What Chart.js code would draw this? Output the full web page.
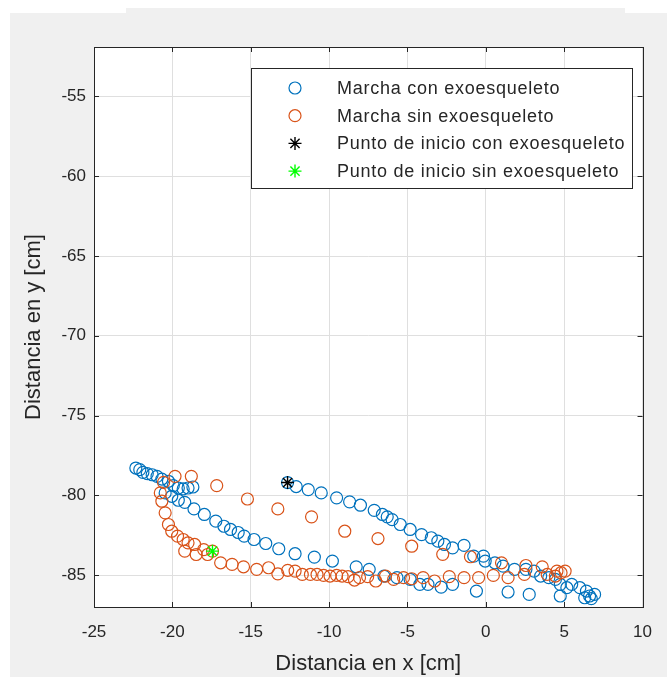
<!DOCTYPE html>
<html>
<head>
<meta charset="utf-8">
<script src="https://cdn.jsdelivr.net/npm/chart.js@4"></script>
<style>
  html, body { margin: 0; padding: 0; background: #fff; }
  #fig { position: absolute; left: 10px; top: 13px; width: 657px; height: 664px; background: #f0f0f0; }
  #figTop { position: absolute; left: 126px; top: 8px; width: 499px; height: 6px; background: #f0f0f0; }
  #plot { position: absolute; left: 0; top: 0; }
</style>
</head>
<body>
<div id="fig"></div>
<div id="figTop"></div>
<canvas id="plot" width="667" height="677"></canvas>
<script>
// trayectoria con exoesqueleto [x, y] en cm
const conExoX = [-12.65, -12.1, -11.33, -10.5, -9.52, -8.69, -8.0, -7.12, -6.6, -6.29, -5.98, -5.46, -4.83, -4.1, -3.48, -3.06, -2.64, -2.12, -1.39, -0.77, -0.15, -0.04, 0.58, 1.1, 1.83, 2.56, 3.08, 3.5, 4.02, 4.44, 4.75, 5.17, 5.48, 6.0, 6.42, 6.62, 6.94, 6.31, 6.73,
  4.75, 2.77, 1.42, -0.6, -2.12, -2.85, -3.69, -4.21, -4.83, -5.67, -6.5, -7.44, -8.27, -9.79, -10.94, -12.17, -13.21, -14.04, -14.79, -15.42, -15.8, -16.29, -16.71, -17.23, -17.96, -18.62, -19.21, -19.62, -20.04, -20.46,
  -20.67, -20.98, -21.29, -21.6, -21.88, -22.08, -22.33, -20.25, -19.94, -19.62, -19.31, -19.0, -18.69];
const conExoY = [-79.2, -79.45, -79.64, -79.85, -80.16, -80.41, -80.62, -80.94, -81.2, -81.35, -81.52, -81.83, -82.14, -82.46, -82.66, -82.87, -83.08, -83.29, -83.14, -83.81, -83.81, -84.12, -84.23, -84.44, -84.64, -84.64, -84.75, -85.06, -85.16, -85.27, -85.58, -85.79, -85.58, -85.79, -86.0, -86.31, -86.21, -86.42, -86.48,
  -86.31, -86.21, -86.06, -86.0, -85.58, -85.75, -85.58, -85.58, -85.27, -85.16, -85.06, -84.64, -84.48, -84.12, -83.87, -83.66, -83.35, -83.02, -82.77, -82.56, -82.33, -82.14, -81.94, -81.62, -81.2, -80.85, -80.44, -80.31, -80.06, -79.85,
  -78.98, -78.81, -78.71, -78.64, -78.56, -78.39, -78.29, -79.12, -79.39, -79.54, -79.6, -79.54, -79.48];

// trayectoria sin exoesqueleto
const sinExoX = [-19.83, -18.79, -17.17, -15.21, -13.27, -11.12, -9.0, -6.88, -4.73, -2.75, -0.98, 1.0, 2.56, 3.6, 4.54, 5.06, 4.8,
  -20.56, -20.77, -20.67, -20.46, -20.25, -20.04, -19.67, -19.31, -19.0, -18.58, -19.21, -18.48, -18.0, -17.75, -17.44, -16.92, -16.19,
  -15.46, -14.62, -13.86, -13.27, -12.64, -12.17, -11.71, -11.19, -10.77, -10.35, -9.94, -9.52, -9.17, -8.79, -8.38, -8.06, -7.54, -7.02, -6.4, -5.88, -5.25, -4.73, -4.0, -3.27, -2.33, -1.39, -0.46, 0.48, 1.42, 2.46, 3.92, 4.44];
const sinExoY = [-78.81, -78.81, -79.39, -80.23, -80.85, -81.35, -82.25, -82.71, -83.19, -83.7, -83.85, -84.23, -84.4, -84.48, -84.75, -84.75, -84.85,
  -79.19, -79.85, -80.37, -81.1, -81.83, -82.25, -82.56, -82.77, -82.98, -83.08, -83.5, -83.71, -83.4, -83.71, -83.5, -84.23, -84.33,
  -84.48, -84.64, -84.54, -84.92, -84.7, -84.75, -84.96, -84.96, -84.96, -85.02, -85.06, -85.02, -85.06, -85.1, -85.31, -85.16, -85.1, -85.37, -85.06, -85.27, -85.16, -85.23, -85.16, -85.37, -85.1, -85.16, -85.16, -85.02, -85.16, -84.96, -84.96, -85.06];

// puntos de inicio
const inicioCon = [-12.65, -79.2];
const inicioSin = [-17.44, -83.5];

const xTicks = [-25, -20, -15, -10, -5, 0, 5, 10];
const yTicks = [-85, -80, -75, -70, -65, -60, -55];

const azul = "#0072BD";
const naranja = "#D95319";
const txt = "#262626";
const fuente = "'Liberation Sans', Arial, sans-serif";

function toPoints(xs, ys) {
  return xs.map((x, i) => ({ x: x, y: ys[i] }));
}

// caja, marcas hacia dentro y leyenda al estilo MATLAB
const ejesMatlab = {
  id: "ejesMatlab",
  beforeDraw(chart) {
    const { ctx, chartArea: a } = chart;
    ctx.save();
    ctx.fillStyle = "#fff";
    ctx.fillRect(a.left, a.top, a.right - a.left, a.bottom - a.top);
    ctx.restore();
  },
  afterDraw(chart) {
    const { ctx, chartArea: a, scales } = chart;
    ctx.save();
    ctx.strokeStyle = txt;
    ctx.lineWidth = 1;
    ctx.beginPath();
    const tl = 5;
    xTicks.forEach((v) => {
      const px = Math.round(scales.x.getPixelForValue(v)) + 0.5;
      ctx.moveTo(px, a.bottom); ctx.lineTo(px, a.bottom - tl);
      ctx.moveTo(px, a.top); ctx.lineTo(px, a.top + tl);
    });
    yTicks.forEach((v) => {
      const py = Math.round(scales.y.getPixelForValue(v)) + 0.5;
      ctx.moveTo(a.left, py); ctx.lineTo(a.left + tl, py);
      ctx.moveTo(a.right, py); ctx.lineTo(a.right - tl, py);
    });
    ctx.stroke();
    ctx.strokeRect(Math.round(a.left) + 0.5, Math.round(a.top) + 0.5,
      Math.round(a.right - a.left), Math.round(a.bottom - a.top));

    // leyenda
    const lx = 251, ly = 68, lw = 381, lh = 120;
    ctx.fillStyle = "#fff";
    ctx.fillRect(lx, ly, lw, lh);
    ctx.strokeRect(lx + 0.5, ly + 0.5, lw, lh);
    ctx.font = "18px " + fuente;
    ctx.letterSpacing = "0.75px";
    ctx.textBaseline = "middle";
    const items = [0, 1, 2, 3].map((i) => chart.data.datasets.find((d) => d.legendIndex === i));
    items.forEach((ds, i) => {
      const cy = ly + 20 + i * 27.7;
      ctx.fillStyle = ds.backgroundColor;
      ctx.strokeStyle = ds.borderColor;
      ctx.lineWidth = ds.borderWidth;
      Chart.helpers.drawPoint(ctx, { pointStyle: ds.pointStyle, radius: ds.pointRadius, borderWidth: ds.borderWidth, rotation: 0 }, 295, cy);
      ctx.fillStyle = txt;
      ctx.fillText(ds.label, 337, cy + 1);
    });
    ctx.restore();
  }
};

const tickFont = { family: fuente, size: 17 };
const titleFont = { family: fuente, size: 22 };

new Chart(document.getElementById("plot"), {
  type: "scatter",
  data: {
    datasets: [
      {
        label: "Punto de inicio con exoesqueleto",
        legendIndex: 2,
        data: [{ x: inicioCon[0], y: inicioCon[1] }],
        pointStyle: "star",
        pointRadius: 6.5,
        borderColor: "#000",
        backgroundColor: "#000",
        borderWidth: 1.4,
        order: 0
      },
      {
        label: "Punto de inicio sin exoesqueleto",
        legendIndex: 3,
        data: [{ x: inicioSin[0], y: inicioSin[1] }],
        pointStyle: "star",
        pointRadius: 6.5,
        borderColor: "#00ff00",
        backgroundColor: "#00ff00",
        borderWidth: 1.4,
        order: 0
      },
      {
        label: "Marcha sin exoesqueleto",
        legendIndex: 1,
        data: toPoints(sinExoX, sinExoY),
        pointStyle: "circle",
        pointRadius: 6,
        borderColor: naranja,
        backgroundColor: "rgba(0,0,0,0)",
        borderWidth: 1.2,
        order: 1
      },
      {
        label: "Marcha con exoesqueleto",
        legendIndex: 0,
        data: toPoints(conExoX, conExoY),
        pointStyle: "circle",
        pointRadius: 6,
        borderColor: azul,
        backgroundColor: "rgba(0,0,0,0)",
        borderWidth: 1.2,
        order: 2
      }
    ]
  },
  options: {
    responsive: false,
    devicePixelRatio: 1,
    animation: false,
    layout: { padding: { left: 0, top: 47, right: 13, bottom: 0 } },
    plugins: { legend: { display: false }, tooltip: { enabled: false } },
    scales: {
      x: {
        type: "linear",
        min: -25,
        max: 10,
        afterFit: (s) => { s.height = 70; },
        afterBuildTicks: (s) => { s.ticks = xTicks.map((v) => ({ value: v })); },
        grid: { color: "#dfdfdf", drawTicks: false },
        border: { display: false },
        ticks: { color: txt, font: tickFont, padding: 15, maxRotation: 0 },
        title: { display: true, text: "Distancia en x [cm]", color: txt, font: titleFont, padding: { top: 2, bottom: 0 } }
      },
      y: {
        type: "linear",
        min: -87,
        max: -51.9,
        afterFit: (s) => { s.width = 94; },
        afterBuildTicks: (s) => { s.ticks = yTicks.map((v) => ({ value: v })); },
        grid: { color: "#dfdfdf", drawTicks: false },
        border: { display: false },
        ticks: { color: txt, font: tickFont, padding: 8 },
        title: { display: true, text: "Distancia en y [cm]", color: txt, font: titleFont, padding: { top: 21, bottom: 0 } }
      }
    }
  },
  plugins: [ejesMatlab]
});
</script>
</body>
</html>
